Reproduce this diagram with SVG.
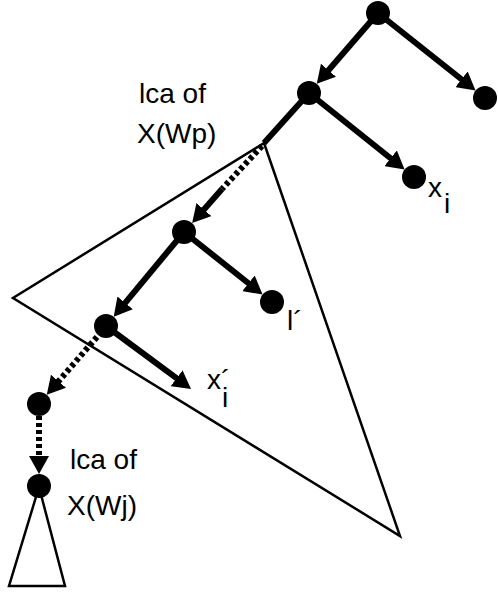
<svg xmlns="http://www.w3.org/2000/svg" width="498" height="592" viewBox="0 0 498 592">
<style>
.edge{stroke:#000;stroke-width:6;fill:none}
.arr{marker-end:url(#ah)}
.dot{stroke-dasharray:4 3}
.tri{stroke:#000;stroke-width:2.5;fill:none;stroke-linejoin:miter}
.node{fill:#000}
text{font-family:"Liberation Sans",Arial,sans-serif;font-size:28px;fill:#000}
</style>
<defs>
<marker id="ah" viewBox="0 0 18 20" markerWidth="18" markerHeight="20" markerUnits="userSpaceOnUse" refX="10" refY="10" orient="auto">
<path d="M0,0 L18,10 L0,20 z" fill="#000"/>
</marker>
</defs>
<g id="subtree-big"><polygon class="tri" points="264,143 13,298 400,536"/></g>
<g id="subtree-small"><polygon class="tri" points="39,487 9,586 65,586"/></g>
<g id="connectors">
<line class="edge arr" x1="378" y1="13" x2="322" y2="77.8"/>
<line class="edge arr" x1="378" y1="13" x2="469.3" y2="85.5"/>
<line class="edge arr" x1="309" y1="93" x2="398.4" y2="164.5"/>
<line class="edge" x1="309" y1="93" x2="264" y2="143"/>
<line class="edge dot" x1="262" y1="146" x2="222" y2="189"/>
<line class="edge arr" x1="222" y1="189" x2="197.4" y2="217.1"/>
<line class="edge arr" x1="184" y1="232" x2="118.8" y2="310.6"/>
<line class="edge arr" x1="184" y1="232" x2="256.3" y2="289.5"/>
<line class="edge arr" x1="106" y1="326" x2="184.6" y2="384.2"/>
<line class="edge dot arr" x1="97" y1="337" x2="52" y2="388.8"/>
<line class="edge dot arr" x1="39" y1="416" x2="39" y2="466"/>
</g>
<g id="n-root"><circle class="node" cx="378" cy="13" r="12"/></g>
<g id="n-right"><circle class="node" cx="485" cy="98" r="12"/></g>
<g id="n-lcaWp"><circle class="node" cx="309" cy="93" r="12"/></g>
<g id="n-xi"><circle class="node" cx="414" cy="177" r="12"/></g>
<g id="n-e"><circle class="node" cx="184" cy="232" r="12"/></g>
<g id="n-f"><circle class="node" cx="106" cy="326" r="12"/></g>
<g id="n-l"><circle class="node" cx="272" cy="302" r="12"/></g>
<g id="n-h"><circle class="node" cx="39" cy="404" r="12"/></g>
<g id="n-lcaWj"><circle class="node" cx="39" cy="486" r="12"/></g>
<g id="labels">
<text x="139" y="103">lca of</text>
<text x="137" y="143">X(Wp)</text>
<text x="70" y="469">lca of</text>
<text x="67" y="515">X(Wj)</text>
<text x="428" y="197">x<tspan x="444" y="213">i</tspan></text>
<text x="287" y="330">l´</text>
<text x="207" y="389">x´<tspan x="222" y="407">i</tspan></text>
</g>
</svg>
